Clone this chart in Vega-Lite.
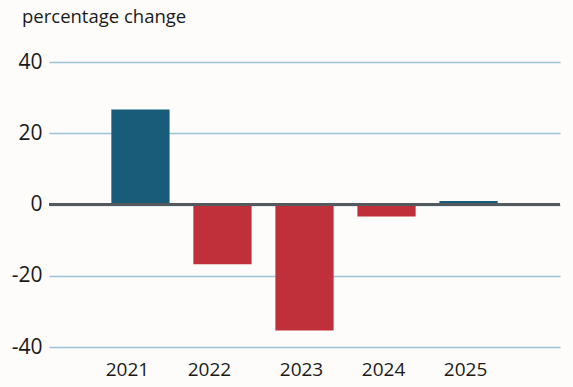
{
  "$schema": "https://vega.github.io/schema/vega-lite/v6.json",
  "width": 511,
  "height": 285,
  "autosize": {"type": "none"},
  "padding": {"left": 49, "top": 62, "right": 13, "bottom": 40},
  "background": "#fdfcfb",
  "title": {
    "text": "percentage change",
    "anchor": "start",
    "frame": "group",
    "dx": -27,
    "offset": 25,
    "fontSize": 18.5,
    "font": "Open Sans",
    "fontWeight": "normal",
    "color": "#1a1a1a"
  },
  "data": {
    "values": [
      {"year": "2021", "value": 26.7},
      {"year": "2022", "value": -16.8},
      {"year": "2023", "value": -35.4},
      {"year": "2024", "value": -3.4},
      {"year": "2025", "value": 1.0}
    ]
  },
  "config": {
    "view": {"stroke": null},
    "font": "Open Sans"
  },
  "layer": [
    {
      "mark": {"type": "bar"},
      "encoding": {
        "x": {
          "field": "year",
          "type": "nominal",
          "scale": {"paddingInner": 0.29, "paddingOuter": 0.76},
          "axis": {
            "title": null,
            "labelAngle": 0,
            "domain": false,
            "ticks": false,
            "labelFontSize": 19,
            "labelColor": "#1a1a1a",
            "labelPadding": 13,
            "labelFont": "Open Sans",
            "labelOffset": {"expr": "datum.value == '2021' || datum.value == '2022' ? -13 : -3"}
          }
        },
        "y": {
          "field": "value",
          "type": "quantitative",
          "scale": {"domain": [-40, 40], "nice": false},
          "axis": {
            "title": null,
            "values": [-40, -20, 0, 20, 40],
            "labelExpr": "'' + datum.value",
            "domain": false,
            "ticks": false,
            "labelFontSize": 21,
            "labelColor": "#1a1a1a",
            "labelPadding": 7,
            "labelFont": "Open Sans",
            "gridColor": "#9cc4d6",
            "gridWidth": 1.3
          }
        },
        "color": {
          "condition": {"test": "datum.value > 0", "value": "#195c79"},
          "value": "#c0303a"
        }
      }
    },
    {
      "mark": {"type": "rule", "color": "#55595d", "strokeWidth": 3},
      "encoding": {"y": {"datum": 0}}
    }
  ]
}
